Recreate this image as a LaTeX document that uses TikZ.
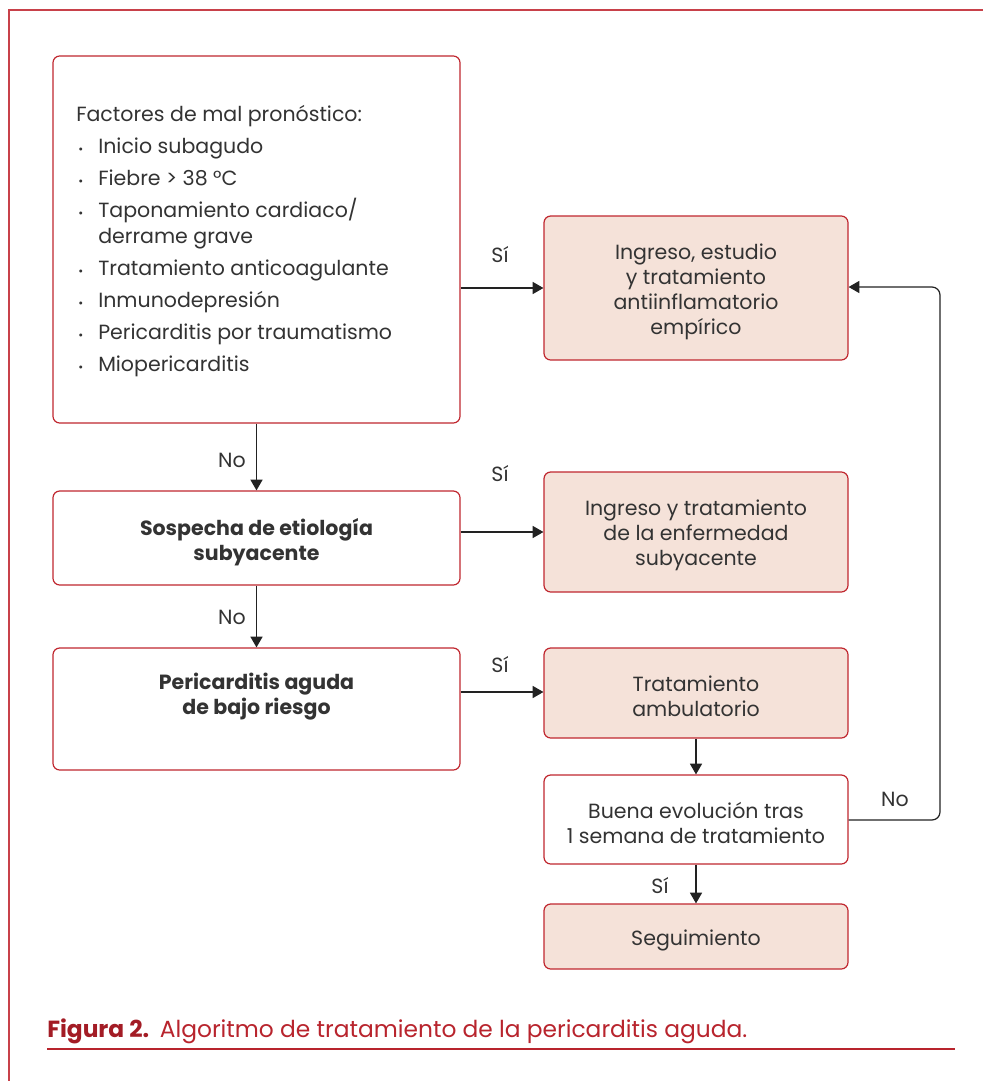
\documentclass[tikz,border=0pt]{standalone}
\usepackage{fontspec}
\setmainfont{Poppins}
\usetikzlibrary{arrows.meta}
\definecolor{frame}{HTML}{C8414A}
\definecolor{boxred}{HTML}{C0272F}
\definecolor{pinkfill}{HTML}{F5E2D9}
\definecolor{txt}{HTML}{333333}
\definecolor{arrowc}{HTML}{222222}
\definecolor{capdark}{HTML}{A31C25}
\definecolor{capred}{HTML}{B8242D}
\newcommand\bodyfont{\fontsize{15.4}{18.75}\selectfont}
\tikzset{
  basebox/.style={draw=boxred, line width=0.9pt, rounded corners=5pt, inner sep=0pt},
  whitebox/.style={basebox, fill=white},
  pinkbox/.style={basebox, fill=pinkfill},
  lab/.style={text=txt, font=\bodyfont, inner sep=0pt, align=center},
  conn/.style={draw=arrowc, line width=0.9pt, -{Triangle[length=8pt,width=9pt]}},
}
\newcommand\bul{\makebox[16.5pt][l]{\hspace{1.5pt}\raisebox{0.5pt}{\small•}}}
\begin{document}
\begin{tikzpicture}[x=0.75pt,y=-0.75pt]
\useasboundingbox (0,0) rectangle (983,1081);
% outer frame
\draw[frame, line width=1.1pt] (9,1081) -- (9,10) -- (983,10);
% boxes
\node[whitebox, minimum width=305.25pt, minimum height=275.25pt] (A) at (256.5,239.5) {};
\node[whitebox, minimum width=305.25pt, minimum height=70.5pt] (B) at (256.5,538) {};
\node[whitebox, minimum width=305.25pt, minimum height=91.5pt] (C) at (256.5,709) {};
\node[pinkbox, minimum width=228pt, minimum height=108pt] (D) at (696,288) {};
\node[pinkbox, minimum width=228pt, minimum height=90pt] (E) at (696,532) {};
\node[pinkbox, minimum width=228pt, minimum height=67.5pt] (F) at (696,693) {};
\node[whitebox, minimum width=228pt, minimum height=66.75pt] (G) at (696,819.5) {};
\node[pinkbox, minimum width=228pt, minimum height=48.75pt] (H) at (696,936.5) {};
% box texts
\node[lab, anchor=north west, align=left, font=\fontsize{15.4}{19.5}\selectfont] (At) at (76,105.5)
 {Factores de mal pronóstico:\\[4.5pt]
  \bul Inicio subagudo\\[4.5pt]
  \bul Fiebre > 38 °C\\[4.5pt]
  \bul Taponamiento cardiaco/\\
  \hspace*{16.5pt}derrame grave\\[4.5pt]
  \bul Tratamiento anticoagulante\\[4.5pt]
  \bul Inmunodepresión\\[4.5pt]
  \bul Pericarditis por traumatismo\\[4.5pt]
  \bul Miopericarditis};
\node[lab] (Bt) at (256.5,542) {\bfseries Sospecha de etiología\\\bfseries subyacente};
\node[lab] (Ct) at (256.5,696.5) {\bfseries Pericarditis aguda\\\bfseries de bajo riesgo};
\node[lab] (Dt) at (696,291.5) {Ingreso, estudio\\y tratamiento\\antiinflamatorio\\empírico};
\node[lab] (Et) at (696,535.5) {Ingreso y tratamiento\\de la enfermedad\\subyacente};
\node[lab] (Ft) at (696,696) {Tratamiento\\ambulatorio};
\node[lab] (Gt) at (696,822.5) {Buena evolución tras\\1 semana de tratamiento};
\node[lab] (Ht) at (696,940.5) {Seguimiento};
% connectors
\coordinate (r1) at (940,820);
\coordinate (r2) at (940,287);
\draw[conn] (A.east |- D.west) -- (D.west);
\draw[conn] (B.east |- E.west) -- (E.west);
\draw[conn] (C.east |- 0,692) -- (F.west |- 0,692);
\draw[conn] (A.south) -- (B.north);
\draw[conn] (B.south) -- (C.north);
\draw[conn] (F.south) -- (G.north);
\draw[conn] (G.south) -- (H.north);
\draw[conn, rounded corners=6pt] (G.east |- r1) -- (r1) -- (r2) -- (D.east |- r2);
% labels
\node[lab] (l1) at (500,255) {Sí};
\node[lab] (l2) at (500,474) {Sí};
\node[lab] (l3) at (500,665) {Sí};
\node[lab] (l4) at (232,460) {No};
\node[lab] (l5) at (232,617) {No};
\node[lab] (l6) at (660,886) {Sí};
\node[lab] (l7) at (895,799) {No};
% caption
\node[anchor=base west, inner sep=0pt, font=\fontsize{17.5}{20}\selectfont] (cap) at (47,1037)
 {\textcolor{capdark}{\bfseries Figura 2.}\hspace{8pt}\textcolor{capred}{Algoritmo de tratamiento de la pericarditis aguda.}};
\draw[capred, line width=0.8pt] (47,1049) -- (955,1049);
\end{tikzpicture}
\end{document}
